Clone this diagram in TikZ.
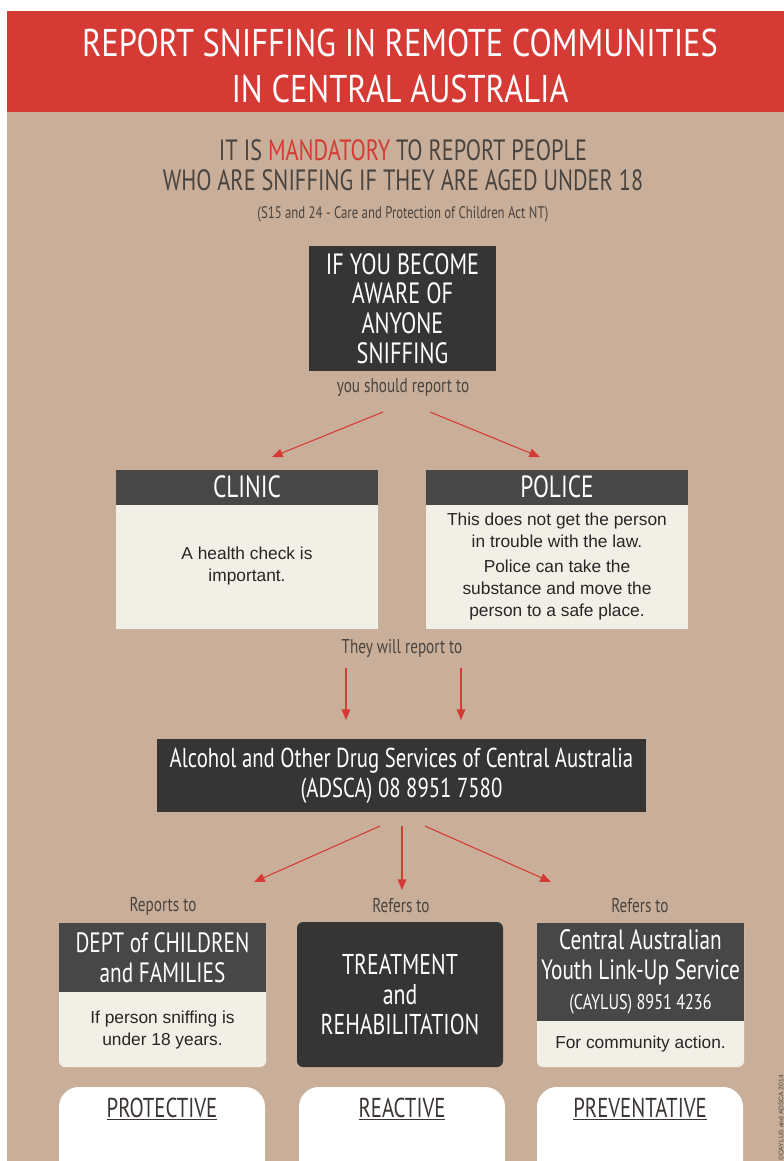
\documentclass[tikz,border=0pt]{standalone}
\usepackage{fontspec}
\setmainfont{Liberation Sans}
\newfontfamily\titlefont[FakeStretch=0.84]{PT Sans}
\newfontfamily\headfont[FakeStretch=0.76]{PT Sans}
\usetikzlibrary{arrows.meta}
\newdimen\px \px=0.75pt
\definecolor{bandred}{HTML}{D63A35}
\definecolor{tanback}{HTML}{C9AF99}
\definecolor{darkbox}{HTML}{353535}
\definecolor{headgray}{HTML}{474747}
\definecolor{cream}{HTML}{F2EFE6}
\definecolor{labelgray}{HTML}{4A4440}
\tikzset{
  hdr/.style={fill=headgray, text=white, inner sep=0pt, align=center,
    font=\headfont\fontsize{21}{22.5}\selectfont},
  cardbody/.style={fill=cream, text=black!85, inner sep=0pt, align=center,
    rounded corners=6\px, font=\fontsize{13}{16.5}\selectfont},
  note/.style={text=labelgray, inner sep=0pt, font=\headfont\fontsize{15}{17}\selectfont},
  whitecard/.style={fill=white, inner sep=0pt, rounded corners=20\px,
    minimum width=206\px, minimum height=150\px},
  arr/.style={draw=bandred, line width=0.8pt, -{Triangle[length=8pt,width=6.5pt]}},
}
\begin{document}
\begin{tikzpicture}[x=0.75pt,y=-0.75pt]
\useasboundingbox (0,0) rectangle (784,1161);
\fill[white] (0,0) rectangle (784,1161);
\fill[tanback] (7,112) rectangle (784,1161);
\fill[bandred] (7,11) rectangle (784,112);
% heading
\node[text=white, align=center, font=\titlefont\fontsize{29}{34.5}\selectfont] (title) at (400,66)
  {REPORT SNIFFING IN REMOTE COMMUNITIES\\IN CENTRAL AUSTRALIA};
\node[text=labelgray, align=center, font=\headfont\fontsize{22}{22.5}\selectfont] (mandatory) at (403,165)
  {IT IS \textcolor{bandred}{MANDATORY} TO REPORT PEOPLE\\WHO ARE SNIFFING IF THEY ARE AGED UNDER 18};
\node[note, font=\headfont\fontsize{12.6}{14}\selectfont] (act) at (403,214)
  {(S15 and 24 - Care and Protection of Children Act NT)};
% first step
\node[fill=darkbox, text=white, inner sep=0pt, align=center, minimum width=187\px, minimum height=125\px,
  font=\headfont\fontsize{22}{22.2}\selectfont] (aware) at (402.5,308.5)
  {IF YOU BECOME\\AWARE OF\\ANYONE\\SNIFFING};
\node[note] (should) at (403,388) {you should report to};
% clinic and police
\node[cardbody, rounded corners=0pt, minimum width=262\px, minimum height=125\px] (clinicbody) at (247,566.5)
  {A health check is\\important.};
\node[hdr, minimum width=262\px, minimum height=35\px, font=\headfont\fontsize{23}{24}\selectfont] (clinic) at (247,487) {CLINIC};
\node[cardbody, rounded corners=0pt, minimum width=262\px, minimum height=125\px] (policebody) at (557,566.5)
  {This does not get the person\\in trouble with the law.\\[2.5\px]Police can take the\\substance and move the\\person to a safe place.};
\node[hdr, minimum width=262\px, minimum height=35\px, font=\headfont\fontsize{23}{24}\selectfont] (police) at (557,487) {POLICE};
\node[note] (will) at (402,648) {They will report to};
% adsca
\node[fill=darkbox, text=white, inner sep=0pt, align=center, minimum width=489\px, minimum height=73\px,
  font=\headfont\fontsize{20.5}{22.5}\selectfont] (adsca) at (401.5,775.5)
  {Alcohol and Other Drug Services of Central Australia\\(ADSCA) 08 8951 7580};
% referrals
\node[note] (reports) at (163,906) {Reports to};
\node[note] (refers) at (401,906) {Refers to};
\node[note] (refers2) at (640,906) {Refers to};
\node[cardbody, minimum width=207\px, minimum height=144\px] (deptbody) at (162.5,995) {};
\node[hdr, minimum width=207\px, minimum height=69\px] (dept) at (162.5,957.5) {DEPT of CHILDREN\\and FAMILIES};
\node[cardbody, fill=none] (deptnote) at (162.5,1030) {If person sniffing is\\under 18 years.};
\node[hdr, fill=darkbox, rounded corners=6\px, minimum width=206\px, minimum height=145\px,
  font=\headfont\fontsize{21.5}{22.5}\selectfont] (treat) at (400,994.5)
  {TREATMENT\\and\\REHABILITATION};
\node[cardbody, minimum width=207\px, minimum height=144\px] (caylusbody) at (640.5,995) {};
\node[hdr, minimum width=207\px, minimum height=98\px] (caylus) at (640.5,972)
  {Central Australian\\Youth Link-Up Service\\{\fontsize{16}{22.5}\selectfont(CAYLUS) 8951 4236}};
\node[cardbody, fill=none] (caylusnote) at (640.5,1044) {For community action.};
% approaches
\node[whitecard] (protcard) at (162,1162) {};
\node[whitecard] (reactcard) at (402,1162) {};
\node[whitecard] (prevcard) at (640,1162) {};
\node[text=labelgray!80!black, font=\headfont\fontsize{20.5}{22}\selectfont] (prot) at (162,1109) {\underline{PROTECTIVE}};
\node[text=labelgray!80!black, font=\headfont\fontsize{20.5}{22}\selectfont] (react) at (402,1109) {\underline{REACTIVE}};
\node[text=labelgray!80!black, font=\headfont\fontsize{20.5}{22}\selectfont] (prev) at (640,1109) {\underline{PREVENTATIVE}};
\node[rotate=90, text=labelgray, font=\fontsize{5}{6}\selectfont] (credit) at (781,1118) {\textcopyright CAYLUS and ADSCA 2014};
% arrows
\coordinate (s1) at (383,412); \coordinate (e1) at (272,457);
\coordinate (s2) at (430,412); \coordinate (e2) at (540,457);
\coordinate (s3) at (346,668); \coordinate (e3) at (346,720);
\coordinate (s4) at (461,668); \coordinate (e4) at (461,720);
\coordinate (s5) at (380,826); \coordinate (e5) at (254,882);
\coordinate (s6) at (402,826); \coordinate (e6) at (402,890);
\coordinate (s7) at (425,826); \coordinate (e7) at (551,882);
\foreach \i in {1,...,7}
  \draw[arr] (s\i) -- (e\i);
\end{tikzpicture}
\end{document}
